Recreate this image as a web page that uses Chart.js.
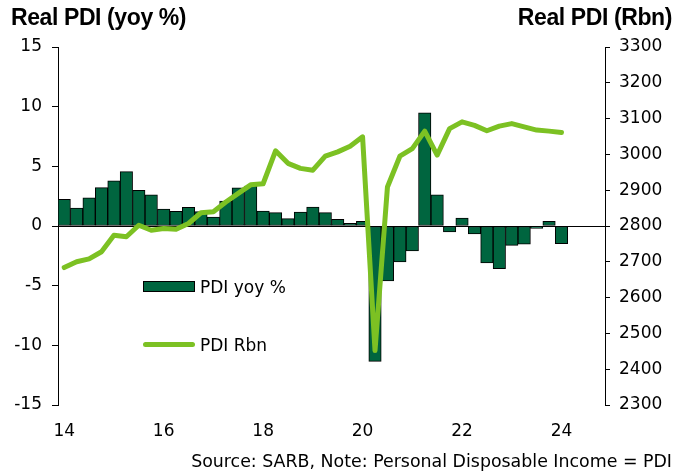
<!DOCTYPE html>
<html>
<head>
<meta charset="utf-8">
<script src="https://cdn.jsdelivr.net/npm/chart.js@4.4.1/dist/chart.umd.min.js"></script>
<style>
  html, body { margin: 0; padding: 0; background: #fff; }
  #wrap { position: relative; width: 688px; height: 475px; overflow: hidden; }
  #chart { position: absolute; left: 0; top: 0; }
  .title { position: absolute; top: 3px; font: bold 23px "Liberation Sans", sans-serif; color: #000; letter-spacing: -0.4px; white-space: nowrap; line-height: 28px; }
  .txt { position: absolute; font: 17px "DejaVu Sans", sans-serif; color: #000; white-space: nowrap; line-height: 20px; }
  .swatch { position: absolute; }
</style>
</head>
<body>
<div id="wrap">
  <canvas id="chart" width="688" height="475"></canvas>
  <div class="title" style="left:11px">Real PDI (yoy %)</div>
  <div class="title" style="right:16px">Real PDI (Rbn)</div>
  <div class="swatch" style="left:143px;top:281px;width:52px;height:11px;background:#00653f;border:1px solid #000;box-sizing:border-box"></div>
  <div class="txt" style="left:200px;top:277px">PDI yoy %</div>
  <div class="swatch" style="left:143px;top:342px;width:52px;height:5px;border-radius:3px;background:#7cc123"></div>
  <div class="txt" style="left:200px;top:335px">PDI Rbn</div>
  <div class="txt" style="right:16px;top:451px;font-size:17.4px">Source: SARB, Note: Personal Disposable Income = PDI</div>
</div>
<script>
// quarters 2014Q1 .. 2024Q4 (axis runs to end of 2024, data stops at 2024Q1)
const quarters = [
  "2014Q1","2014Q2","2014Q3","2014Q4","2015Q1","2015Q2","2015Q3","2015Q4",
  "2016Q1","2016Q2","2016Q3","2016Q4","2017Q1","2017Q2","2017Q3","2017Q4",
  "2018Q1","2018Q2","2018Q3","2018Q4","2019Q1","2019Q2","2019Q3","2019Q4",
  "2020Q1","2020Q2","2020Q3","2020Q4","2021Q1","2021Q2","2021Q3","2021Q4",
  "2022Q1","2022Q2","2022Q3","2022Q4","2023Q1","2023Q2","2023Q3","2023Q4",
  "2024Q1","2024Q2","2024Q3","2024Q4"
];
const xTickLabels = ["14", "16", "18", "20", "22", "24"];

// real PDI, yoy %
const pdiYoy = [
  2.23, 1.51, 2.37, 3.21, 3.79, 4.55, 2.98, 2.62,
  1.42, 1.22, 1.57, 1.2, 0.75, 2.09, 3.2, 3.35,
  1.24, 1.12, 0.62, 1.17, 1.59, 1.12, 0.56, 0.22,
  0.39, -11.35, -4.6, -3.01, -2.09, 9.48, 2.62, -0.5,
  0.67, -0.67, -3.1, -3.57, -1.62, -1.53, -0.2, 0.39,
  -1.48
];

// real PDI, R bn
const pdiRbn = [
  2684, 2700, 2708, 2728, 2774, 2770, 2802, 2788,
  2793, 2791, 2807, 2837, 2840, 2867, 2891, 2915,
  2918, 3010, 2975, 2961, 2956, 2995, 3007, 3023,
  3049, 2452, 2909, 2995, 3016, 3065, 2998, 3072,
  3091, 3081, 3066, 3079, 3086, 3077, 3068, 3065,
  3061
];

const tickFont = { family: "DejaVu Sans", size: 17 };

new Chart(document.getElementById("chart"), {
  data: {
    labels: quarters,
    datasets: [
      {
        type: "line",
        label: "PDI Rbn",
        data: pdiRbn,
        yAxisID: "yR",
        borderColor: "#7cc123",
        borderWidth: 5,
        borderCapStyle: "round",
        borderJoinStyle: "round",
        pointRadius: 0,
        tension: 0,
        order: 0
      },
      {
        type: "bar",
        label: "PDI yoy %",
        data: pdiYoy,
        yAxisID: "yL",
        backgroundColor: "#00653f",
        borderColor: "#000",
        borderWidth: 1,
        borderSkipped: false,
        barPercentage: 1,
        categoryPercentage: 1,
        order: 1
      }
    ]
  },
  options: {
    responsive: false,
    animation: false,
    layout: { padding: { top: 47, left: 0, right: 0, bottom: 0 } },
    plugins: { legend: { display: false }, tooltip: { enabled: false } },
    scales: {
      x: {
        offset: true,
        grid: { display: false, drawTicks: false },
        border: { display: false },
        ticks: {
          autoSkip: false,
          maxRotation: 0,
          padding: 16,
          color: "#000",
          font: tickFont,
          callback: (val, idx) => (idx % 8 === 0 ? xTickLabels[idx / 8] : "")
        },
        afterFit: s => { s.height = 70; }
      },
      yL: {
        position: "left",
        min: -15,
        max: 15,
        ticks: { stepSize: 5, color: "#000", font: tickFont, padding: 10 },
        grid: {
          color: c => (c.tick && c.tick.value === 0 ? "#000" : "rgba(0,0,0,0)"),
          tickColor: "#000",
          tickLength: 6,
          lineWidth: 1
        },
        border: { display: true, color: "#000", width: 1 },
        afterFit: s => { s.width = 58; }
      },
      yR: {
        position: "right",
        min: 2300,
        max: 3300,
        ticks: { stepSize: 100, color: "#000", font: tickFont, padding: 9, callback: v => String(v) },
        grid: { drawOnChartArea: false, tickColor: "#000", tickLength: 5 },
        border: { display: true, color: "#000", width: 1 },
        afterFit: s => { s.width = 83; }
      }
    }
  }
});
</script>
</body>
</html>
